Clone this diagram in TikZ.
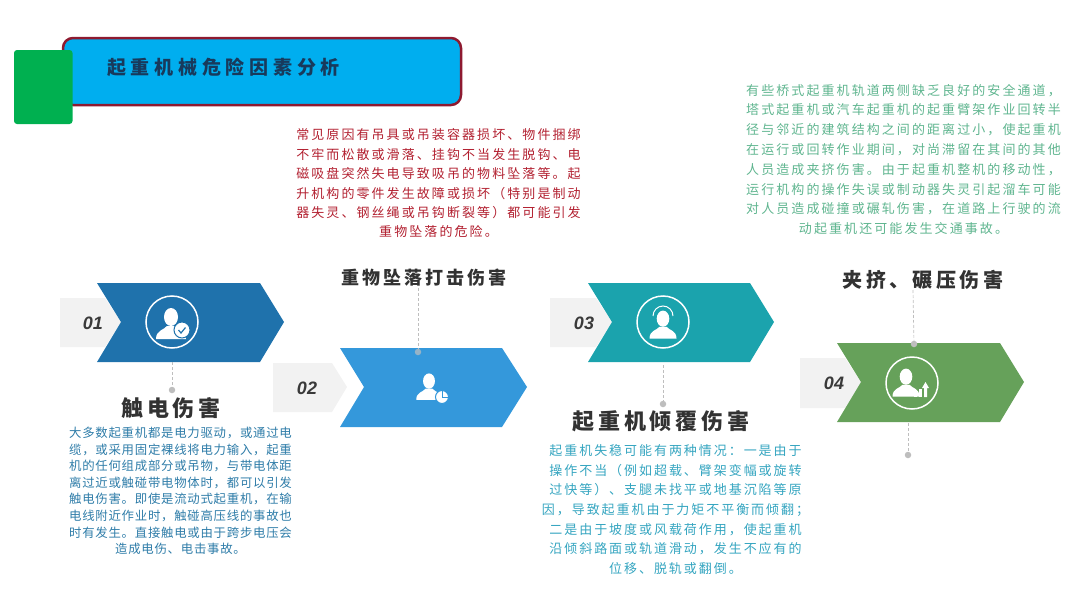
\documentclass[tikz,border=0pt]{standalone}
\usepackage{fontspec}
\usepackage{xcolor}
\usepackage{tikz}
\usetikzlibrary{positioning,calc}
\setmainfont{Liberation Sans}
\newfontfamily\titlefont[LetterSpace=25]{Noto Sans CJK SC}
\newfontfamily\headfont[LetterSpace=17]{Noto Sans CJK SC}
\newfontfamily\redfont[LetterSpace=16]{Noto Sans CJK SC}
\newfontfamily\greenfont[LetterSpace=16]{Noto Sans CJK SC}
\newfontfamily\bluefont[LetterSpace=6]{Noto Sans CJK SC}
\newfontfamily\cyanfont[LetterSpace=15]{Noto Sans CJK SC}
\definecolor{titleblue}{RGB}{0, 174, 239}
\definecolor{titleborder}{RGB}{142, 26, 48}
\definecolor{titlegreen}{RGB}{0, 176, 80}
\definecolor{titleink}{RGB}{24, 58, 92}
\definecolor{tabgray}{RGB}{242, 242, 242}
\definecolor{stepone}{RGB}{31, 114, 172}
\definecolor{steptwo}{RGB}{52, 152, 219}
\definecolor{stepthree}{RGB}{27, 163, 173}
\definecolor{stepfour}{RGB}{102, 161, 90}
\definecolor{headink}{RGB}{50, 50, 50}
\definecolor{numink}{RGB}{58, 58, 58}
\definecolor{leadgray}{RGB}{190, 190, 190}
\definecolor{redink}{RGB}{178, 32, 48}
\definecolor{greenink}{RGB}{95, 181, 143}
\definecolor{blueink}{RGB}{46, 124, 168}
\definecolor{cyanink}{RGB}{53, 165, 192}
% person bust, drawn around the origin of its scope
\newcommand{\personbust}{%
  \fill[white] (0,-7) ellipse [x radius=7, y radius=9];
  \fill[white] (-15,15) .. controls (-15,6) and (-7,6) .. (-4,2) -- (4,2) .. controls (7,6) and (15,6) .. (15,15) -- cycle;
}
\begin{document}
\begin{tikzpicture}[x=1pt, y=-1pt,
    numlabel/.style={font=\bfseries\itshape\fontsize{18}{18}\selectfont, text=numink, inner sep=0pt},
    headlabel/.style={font=\headfont\bfseries, text=headink, inner sep=0pt},
    bodytext/.style={align=center, inner sep=0pt},
    leader/.style={draw=leadgray, densely dashed, line width=0.7pt},
    leaddot/.style={circle, fill=leadgray, inner sep=0pt, minimum size=6.5pt},
    iconring/.style={draw=white, line width=1.5pt, fill=none}]
    \useasboundingbox (0,0) rectangle (1080,608);

    % Title bar
    \draw[fill=titleblue, draw=titleborder, line width=2.5pt, rounded corners=10pt] (63,38) rectangle (461,105);
    \fill[titlegreen, rounded corners=3pt] (14,50) rectangle (72.5,124);
    \node[font=\titlefont\bfseries\fontsize{19}{19}\selectfont, text=titleink, inner sep=0pt, anchor=west] (title) at (107,67) {起重机械危险因素分析};

    % Gray number tabs
    \fill[tabgray] (60,298) -- (105,298) -- (121,322) -- (105,347) -- (60,347) -- cycle;
    \fill[tabgray] (273,363) -- (332,363) -- (347,387) -- (332,412) -- (273,412) -- cycle;
    \fill[tabgray] (550,298) -- (596,298) -- (612,322) -- (596,347) -- (550,347) -- cycle;
    \fill[tabgray] (800,358) -- (845,358) -- (861,382) -- (845,408) -- (800,408) -- cycle;

    % Chevrons
    \fill[stepone] (97,283) -- (260,283) -- (284,322) -- (260,362) -- (97,362) -- (121,322) -- cycle;
    \fill[steptwo] (340,348) -- (502,348) -- (527,387) -- (502,427) -- (340,427) -- (364,387) -- cycle;
    \fill[stepthree] (588,283) -- (750,283) -- (774,322) -- (750,362) -- (588,362) -- (612,322) -- cycle;
    \fill[stepfour] (837,343) -- (1000,343) -- (1024,382) -- (1000,422) -- (837,422) -- (861,382) -- cycle;

    % Numbers
    \node[numlabel] (num1) at (93,323) {01};
    \node[numlabel] (num2) at (307,388) {02};
    \node[numlabel] (num3) at (584,323) {03};
    \node[numlabel] (num4) at (834,383) {04};

    % Icon 1
    \draw[iconring] (172,322) circle (26);
    \begin{scope}[shift={(171,324)}]
        \personbust
    \end{scope}
    \draw[fill=white, draw=stepone, line width=1pt] (182,330) circle (8);
    \draw[stepone, line width=1.2pt] (178.5,330) -- (181,333) -- (185.5,327.5);

    % Icon 2
    \begin{scope}[shift={(429,387)}, scale=0.85]
        \personbust
    \end{scope}
    \draw[fill=white, draw=steptwo, line width=1pt] (442,397) circle (6.5);
    \draw[steptwo, line width=0.8pt] (442,397) -- (442,390.5) (442,397) -- (448.5,397);

    % Icon 3
    \draw[iconring] (663,322) circle (26);
    \begin{scope}[shift={(663,325)}, scale=0.9]
        \personbust
    \end{scope}
    \draw[white, line width=1pt] (653,316) arc [start angle=180, end angle=360, radius=10];

    % Icon 4
    \draw[iconring] (912,383) circle (26);
    \begin{scope}[shift={(906,383)}, scale=0.9]
        \personbust
    \end{scope}
    \fill[white] (914,397) rectangle (917,391);
    \fill[white] (919,397) rectangle (922,389);
    \fill[white] (924,397) rectangle (927,387) (922,388) -- (925.5,382) -- (929,388) -- cycle;

    % Headings
    \node[headlabel, font=\headfont\bfseries\fontsize{22}{22}\selectfont] (head1) at (171,408) {触电伤害};
    \node[headlabel, font=\headfont\bfseries\fontsize{18}{18}\selectfont] (head2) at (424,278) {重物坠落打击伤害};
    \node[headlabel, font=\headfont\bfseries\fontsize{22}{22}\selectfont] (head3) at (661,421) {起重机倾覆伤害};
    \node[headlabel, font=\headfont\bfseries\fontsize{20}{20}\selectfont] (head4) at (923,280) {夹挤、碾压伤害};

    % Leader lines
    \coordinate (lead1) at (172,362);
    \node[leaddot] (dot1) at (172,390) {};
    \draw[leader] (lead1) -- (dot1);
    \coordinate (lead2) at (418,288);
    \node[leaddot, fill=leadgray!70!steptwo] (dot2) at (418,352) {};
    \draw[leader] (lead2) -- (dot2);
    \coordinate (lead3) at (663,365);
    \node[leaddot] (dot3) at (663,404) {};
    \draw[leader] (lead3) -- (dot3);
    \coordinate (lead4) at (913,290);
    \node[leaddot] (dot4) at (914,344) {};
    \draw[leader] (lead4) -- (dot4);
    \coordinate (lead5) at (908,423);
    \node[leaddot] (dot5) at (908,455) {};
    \draw[leader] (lead5) -- (dot5);

    % Body texts
    \node[bodytext, font=\redfont\fontsize{13}{19.4}\selectfont, text=redink] (bodyred) at (438.5,183.5) {常见原因有吊具或吊装容器损坏、物件捆绑\\不牢而松散或滑落、挂钩不当发生脱钩、电\\磁吸盘突然失电导致吸吊的物料坠落等。起\\升机构的零件发生故障或损坏（特别是制动\\器失灵、钢丝绳或吊钩断裂等）都可能引发\\重物坠落的危险。};
    \node[bodytext, font=\greenfont\fontsize{13}{19.8}\selectfont, text=greenink] (bodygreen) at (903.5,159.5) {有些桥式起重机轨道两侧缺乏良好的安全通道，\\塔式起重机或汽车起重机的起重臂架作业回转半\\径与邻近的建筑结构之间的距离过小，使起重机\\在运行或回转作业期间，对尚滞留在其间的其他\\人员造成夹挤伤害。由于起重机整机的移动性，\\运行机构的操作失误或制动器失灵引起溜车可能\\对人员造成碰撞或碾轧伤害，在道路上行驶的流\\动起重机还可能发生交通事故。};
    \node[bodytext, font=\bluefont\fontsize{12.4}{16.6}\selectfont, text=blueink] (bodyblue) at (180.5,491) {大多数起重机都是电力驱动，或通过电\\缆，或采用固定裸线将电力输入，起重\\机的任何组成部分或吊物，与带电体距\\离过近或触碰带电物体时，都可以引发\\触电伤害。即使是流动式起重机，在输\\电线附近作业时，触碰高压线的事故也\\时有发生。直接触电或由于跨步电压会\\造成电伤、电击事故。};
    \node[bodytext, font=\cyanfont\fontsize{13}{19.6}\selectfont, text=cyanink] (bodycyan) at (675.5,509.5) {起重机失稳可能有两种情况：一是由于\\操作不当（例如超载、臂架变幅或旋转\\过快等）、支腿未找平或地基沉陷等原\\因，导致起重机由于力矩不平衡而倾翻；\\二是由于坡度或风载荷作用，使起重机\\沿倾斜路面或轨道滑动，发生不应有的\\位移、脱轨或翻倒。};
\end{tikzpicture}
\end{document}
